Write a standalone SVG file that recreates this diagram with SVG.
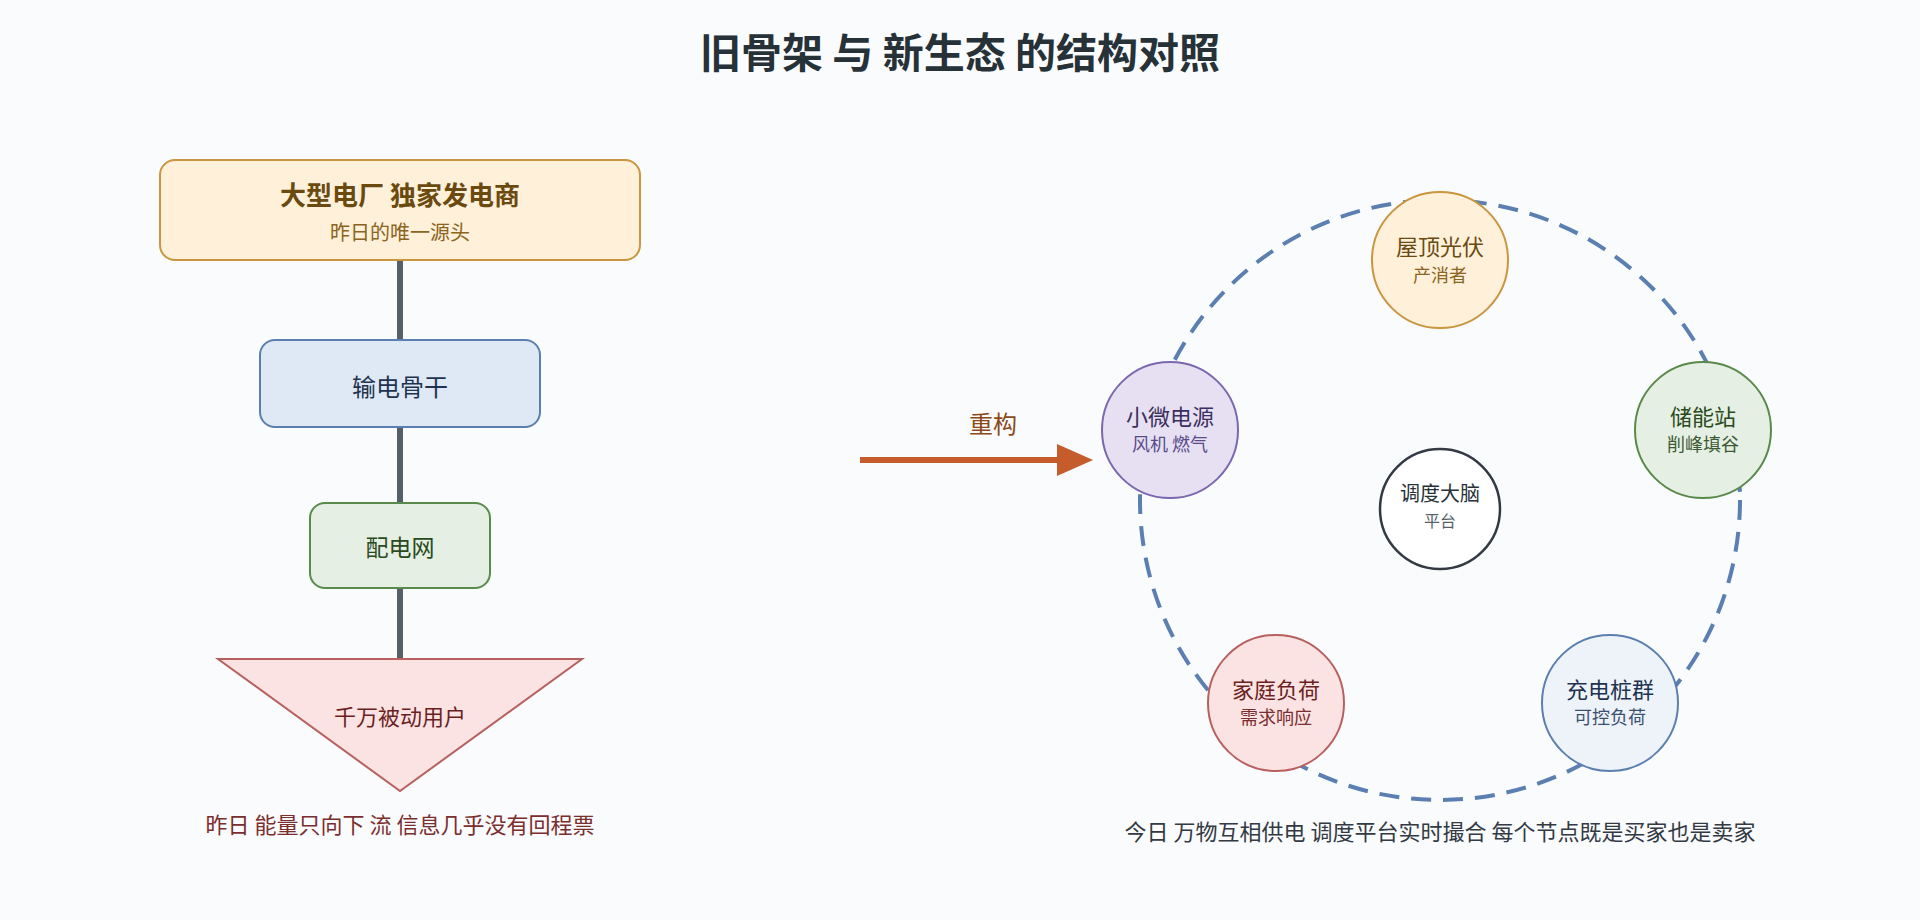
<svg xmlns="http://www.w3.org/2000/svg" width="1920" height="920" viewBox="0 0 1920 920">
<defs>
<style>
text{font-family:"Noto Sans CJK SC","Noto Sans",sans-serif;text-anchor:middle}
.title{font-size:41px;font-weight:700;fill:#263238}
.link{stroke:#555F6A;stroke-width:6;fill:none}
.ring{stroke:#5A7FB0;stroke-width:4;fill:none;stroke-dasharray:20 12}
.nt{font-size:22px}
.ns{font-size:18px}
.cap{font-size:22px}
</style>
<marker id="ah" viewBox="0 0 36 32" refX="0" refY="16" markerWidth="36" markerHeight="32" markerUnits="userSpaceOnUse" orient="auto">
<path d="M0 0L36 16L0 32Z" fill="#C45C2C"/>
</marker>
</defs>
<rect width="1920" height="920" fill="#FAFBFD"/>
<text class="title" x="960" y="68">旧骨架 与 新生态 的结构对照</text>

<g id="connectors">
<line class="link" x1="400" y1="260" x2="400" y2="340"/>
<line class="link" x1="400" y1="427" x2="400" y2="503"/>
<line class="link" x1="400" y1="588" x2="400" y2="659"/>
<line x1="860" y1="460" x2="1057" y2="460" stroke="#C45C2C" stroke-width="6" marker-end="url(#ah)"/>
<circle class="ring" cx="1440" cy="500" r="300"/>
</g>

<g id="plant">
<rect x="160" y="160" width="480" height="100" rx="15" fill="#FFF0DA" stroke="#C9963F" stroke-width="2"/>
<text x="400" y="205" font-size="26" font-weight="700" fill="#6B4A10">大型电厂 独家发电商</text>
<text x="400" y="240" font-size="20" fill="#8A6420">昨日的唯一源头</text>
</g>
<g id="transmission">
<rect x="260" y="340" width="280" height="87" rx="15" fill="#DFE9F5" stroke="#5B7FAF" stroke-width="2"/>
<text x="400" y="396" font-size="24" fill="#1F3350">输电骨干</text>
</g>
<g id="distribution">
<rect x="310" y="503" width="180" height="85" rx="15" fill="#E5EFE3" stroke="#5A8A4A" stroke-width="2"/>
<text x="400" y="556" font-size="23" fill="#2A4A20">配电网</text>
</g>
<g id="users">
<polygon points="218,659 582,659 400,791" fill="#FCE3E3" stroke="#B86060" stroke-width="2"/>
<text x="400" y="725" font-size="22" fill="#6B1F1F">千万被动用户</text>
</g>
<text class="cap" x="400" y="833" fill="#7A2E2E">昨日 能量只向下 流 信息几乎没有回程票</text>

<text x="993" y="433" font-size="24" fill="#8A4A1A">重构</text>

<g id="pv">
<circle cx="1440" cy="260" r="68" fill="#FFF0DA" stroke="#C9963F" stroke-width="2"/>
<text class="nt" x="1440" y="255" fill="#6B4A10">屋顶光伏</text>
<text class="ns" x="1440" y="282" fill="#8A6420">产消者</text>
</g>
<g id="storage">
<circle cx="1703" cy="430" r="68" fill="#E5EFE3" stroke="#5A8A4A" stroke-width="2"/>
<text class="nt" x="1703" y="425" fill="#2A4A20">储能站</text>
<text class="ns" x="1703" y="451" fill="#3E5A36">削峰填谷</text>
</g>
<g id="charging">
<circle cx="1610" cy="703" r="68" fill="#EEF3FA" stroke="#5B7FAF" stroke-width="2"/>
<text class="nt" x="1610" y="698" fill="#1F3350">充电桩群</text>
<text class="ns" x="1610" y="724" fill="#3A5070">可控负荷</text>
</g>
<g id="household">
<circle cx="1276" cy="703" r="68" fill="#FCE3E3" stroke="#B86060" stroke-width="2"/>
<text class="nt" x="1276" y="698" fill="#6B1F1F">家庭负荷</text>
<text class="ns" x="1276" y="724" fill="#7A2E2E">需求响应</text>
</g>
<g id="micro">
<circle cx="1170" cy="430" r="68" fill="#E6E0F2" stroke="#7B68B0" stroke-width="2"/>
<text class="nt" x="1170" y="425" fill="#3A2E5E">小微电源</text>
<text class="ns" x="1170" y="451" fill="#5A4A8A">风机 燃气</text>
</g>
<g id="dispatch">
<circle cx="1440" cy="509" r="60" fill="#FFFFFF" stroke="#333A44" stroke-width="2.5"/>
<text x="1440" y="501" font-size="20" fill="#263238">调度大脑</text>
<text x="1440" y="527" font-size="16" fill="#555F6A">平台</text>
</g>
<text class="cap" x="1440" y="840" fill="#333A44">今日 万物互相供电 调度平台实时撮合 每个节点既是买家也是卖家</text>
</svg>
